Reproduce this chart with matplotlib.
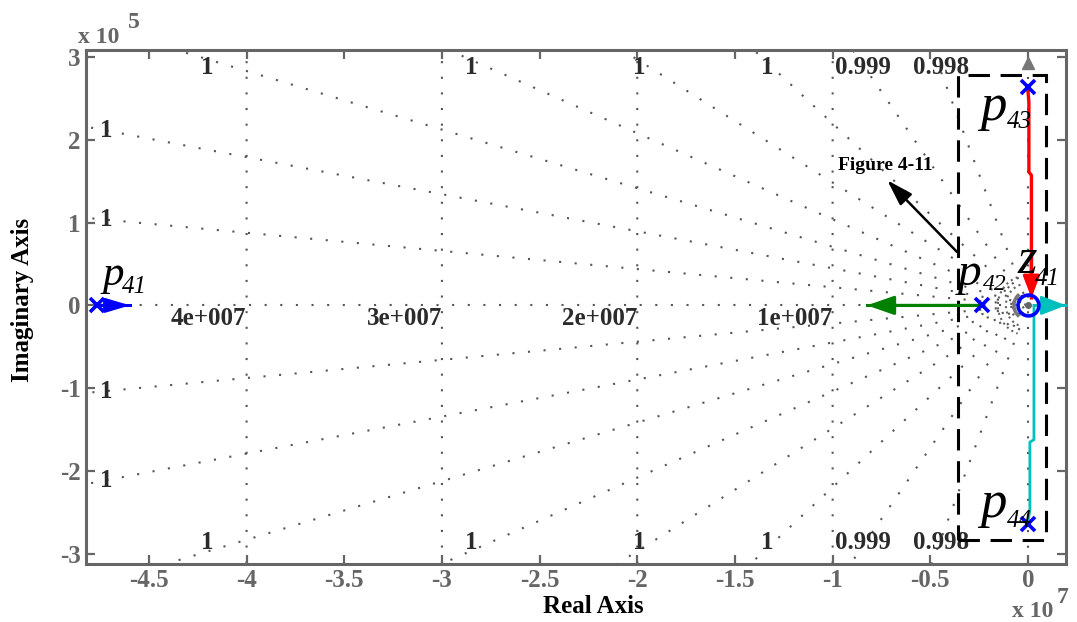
import numpy as np
import matplotlib
matplotlib.use('Agg')
import matplotlib.pyplot as plt
from matplotlib.patches import Rectangle

plt.rcParams['font.family'] = ['Liberation Serif', 'DejaVu Serif']

# ---------------- data (real axis in units of 1e7, imaginary axis in units of 1e5) -------------
x_ticks = [-4.5, -4, -3.5, -3, -2.5, -2, -1.5, -1, -0.5, 0]
x_tick_labels = ['-4.5', '-4', '-3.5', '-3', '-2.5', '-2', '-1.5', '-1', '-0.5', '0']
y_ticks = [-3, -2, -1, 0, 1, 2, 3]
y_tick_labels = ['-3', '-2', '-1', '0', '1', '2', '3']

zeta_values = [0.9999976, 0.99999, 0.999975, 0.999946, 0.99989, 0.999759, 0.99941, 0.998]
wn_values = [1.0, 2.0, 3.0, 4.0]          # x 1e7
wn_labels = ['1e+007', '2e+007', '3e+007', '4e+007']

pole_re = [-4.766, -0.237, 0.0, 0.0]
pole_im = [0.0, 0.0, 2.63, -2.64]
zero_re = [0.0]
zero_im = [0.0]

branch1_re = [-4.766, -4.597]            # from p41, blue
branch1_im = [0.0, 0.0]
branch2_re = [-0.237, -0.824]            # from p42, green
branch2_im = [0.0, 0.0]
branch3_re = [0.0, 0.005, 0.005, 0.018, 0.018]   # from p43 to z41, red
branch3_im = [2.60, 2.45, 1.61, 1.57, 0.09]
branch4_re = [0.0, 0.010, 0.010, 0.031, 0.031]   # from p44, cyan
branch4_im = [-2.61, -2.47, -1.65, -1.62, 0.0]
branch4b_re = [0.031, 0.195]
branch4b_im = [0.0, 0.0]
asym_re = [0.0]                          # gray branch arrow going up
asym_im = [2.92]

# ---------------- figure ----------------
W, H = 1077, 622
fig = plt.figure(figsize=(W / 100, H / 100), dpi=100)
ax = fig.add_axes([86 / W, 1 - 563.5 / H, (1066 - 86) / W, (563.5 - 50) / H])
xlim = (-4.822, 0.195)
ylim = (-3.115, 3.082)
ax.set_xlim(*xlim)
ax.set_ylim(*ylim)

gridc = '#555555'
dot = (0, (1, 6.5))
glw = 1.5

# damping lines
lab_col = '#2b2b2b'
for z in zeta_values:
    m = 100 * np.tan(np.arccos(z))
    xs = np.array([-6.0, 0.0])
    for s in (1, -1):
        ax.plot(xs, s * m * (-xs), color=gridc, lw=glw, ls=dot, zorder=1)
    xt = -2.99 / m
    if xt < -4.72:
        pos = [(-4.72, m * 4.72), (-4.72, -m * 4.72)]
    else:
        pos = [(xt + 0.025, 2.865), (xt + 0.025, -2.86)]
    for (px_, py_) in pos:
        ax.text(px_, py_, f'{z:.3g}', ha='center', va='center', fontsize=18,
                fontweight='bold', color=lab_col, zorder=2)

# real axis and imaginary axis dotted
ax.plot([-6, 0], [0, 0], color=gridc, lw=glw, ls=dot, zorder=1)
ax.plot([0, 0], [-3.3, 3.3], color=gridc, lw=glw, ls=dot, zorder=1)

# natural frequency circles
yy = np.linspace(-3.3, 3.3, 200)
for wn, lab in zip(wn_values, wn_labels):
    xx = -np.sqrt((wn * 1e7) ** 2 - (yy * 1e5) ** 2) / 1e7
    ax.plot(xx, yy, color=gridc, lw=glw, ls=dot, zorder=1)
    ax.text(-wn, -0.02, lab, ha='right', va='top', fontsize=18,
            fontweight='bold', color=lab_col, zorder=2)

# small arcs close to the origin
sx, sy = 195.35, 82.9
for r_px, ang, ls, lw, c in [(30, 70, ':', 1.5, '#666666'), (22, 70, ':', 1.5, '#666666'),
                             (14, 45, '-', 2.5, '#777777')]:
    t = np.radians(np.linspace(180 - ang, 180 + ang, 80))
    ax.plot(r_px / sx * np.cos(t), r_px / sy * np.sin(t), color=c, ls=ls, lw=lw, zorder=2)

# dashed rectangle
ax.add_patch(Rectangle((-0.36, -2.83), 0.4506, 5.61, fill=False, ec='black', lw=2.2,
                       ls=(0, (7, 3.5)), zorder=3, clip_on=False))

# ---------------- root locus branches ----------------
def arrow(x0, y0, x1, y1, color, hl, hw, lw=2.2):
    ax.annotate('', xy=(x1, y1), xytext=(x0, y0),
                arrowprops=dict(arrowstyle=f'-|>,head_length={hl},head_width={hw}',
                                mutation_scale=10, lw=lw, color=color,
                                shrinkA=0, shrinkB=0),
                annotation_clip=False, zorder=5)

ax.plot(branch1_re, branch1_im, color='#0000FF', lw=2.2, zorder=4)
arrow(branch1_re[0], branch1_im[0], branch1_re[-1], branch1_im[-1], '#0000FF', 1.44, 0.43)

ax.plot(branch2_re, branch2_im, color='#008000', lw=2.2, zorder=4)
arrow(branch2_re[0], branch2_im[0], branch2_re[-1], branch2_im[-1], '#008000', 1.66, 0.58)

ax.plot(branch3_re, branch3_im, color='#FF0000', lw=2.4, zorder=4)
arrow(branch3_re[-2], 0.6, branch3_re[-1], branch3_im[-1], '#FF0000', 1.3, 0.5, lw=2.4)

ax.plot(branch4_re, branch4_im, color='#00BFBF', lw=2.0, zorder=4)
ax.plot(branch4b_re, branch4b_im, color='#00BFBF', lw=2.0, zorder=4, clip_on=False)
arrow(branch4b_re[0], branch4b_im[0], branch4b_re[-1], branch4b_im[-1], '#00BFBF', 1.5, 0.58, lw=2.0)

ax.plot(asym_re, asym_im, marker='^', ms=8, color='#777777', ls='none', zorder=5)

ax.plot(pole_re, pole_im, 'x', color='#0000FF', ms=10, mew=2.6, zorder=6)
ax.plot(zero_re, zero_im, 'o', mfc='none', mec='#0000FF', ms=15, mew=2.6, zorder=6)
ax.plot(zero_re, zero_im, '.', color='#666666', ms=8, zorder=6)

# ---------------- pole / zero labels ----------------
def pz_label(letter, sub, pos, subpos, fs, sfs=18):
    ax.text(pos[0], pos[1], letter, fontsize=fs, fontstyle='italic', ha='left',
            va='baseline', color='black', zorder=7)
    ax.text(subpos[0], subpos[1], sub, fontsize=sfs, fontstyle='italic', ha='left',
            va='baseline', color='black', zorder=7)

pz_label('p', '41', (-4.740, 0.247), (-4.636, 0.151), 31)
pz_label('p', '42', (-0.358, 0.247), (-0.232, 0.187), 34, 17)
pz_label('z', '41', (-0.055, 0.392), (0.036, 0.247), 36)
pz_label('p', '43', (-0.246, 2.238), (-0.1095, 2.141), 38)
pz_label('p', '44', (-0.246, -2.55), (-0.1095, -2.67), 38)

# annotation
ax.text(-0.73, 1.69, 'Figure 4-11', ha='center', va='center', fontsize=14,
        fontweight='bold', color='black', zorder=7)
ax.annotate('', xy=(-0.72, 1.51), xytext=(-0.363, 0.645),
            arrowprops=dict(arrowstyle='-|>,head_length=1.6,head_width=0.5',
                            mutation_scale=10, lw=1.8, color='black',
                            shrinkA=0, shrinkB=0), zorder=7)

# ---------------- axes styling ----------------
spc = '#666666'
for s in ax.spines.values():
    s.set_color(spc)
    s.set_linewidth(2.2)
ax.set_xticks(x_ticks)
ax.set_xticklabels(x_tick_labels)
ax.set_yticks(y_ticks)
ax.set_yticklabels(y_tick_labels)
ax.tick_params(direction='in', length=6.5, width=1.6, color=spc, top=True, right=True,
               labelsize=18, labelcolor=spc, pad=4)
for lab in ax.get_xticklabels() + ax.get_yticklabels():
    lab.set_fontweight('bold')

# exponent labels and axis titles
fig.text(78 / W, 1 - 43 / H, 'x 10', fontsize=17, fontweight='bold', color=spc,
         ha='left', va='baseline')
fig.text(128 / W, 1 - 28 / H, '5', fontsize=17, fontweight='bold', color=spc,
         ha='left', va='baseline')
fig.text(1012 / W, 1 - 617 / H, 'x 10', fontsize=17, fontweight='bold', color=spc,
         ha='left', va='baseline')
fig.text(1057 / W, 1 - 603 / H, '7', fontsize=17, fontweight='bold', color=spc,
         ha='left', va='baseline')
fig.text(593 / W, 1 - 613 / H, 'Real Axis', fontsize=18, fontweight='bold', color='black',
         ha='center', va='baseline')
fig.text(23 / W, 1 - 300 / H, 'Imaginary Axis', fontsize=18, fontweight='bold', color='black',
         ha='center', va='center', rotation=90)

fig.savefig('out.png', dpi=100)
